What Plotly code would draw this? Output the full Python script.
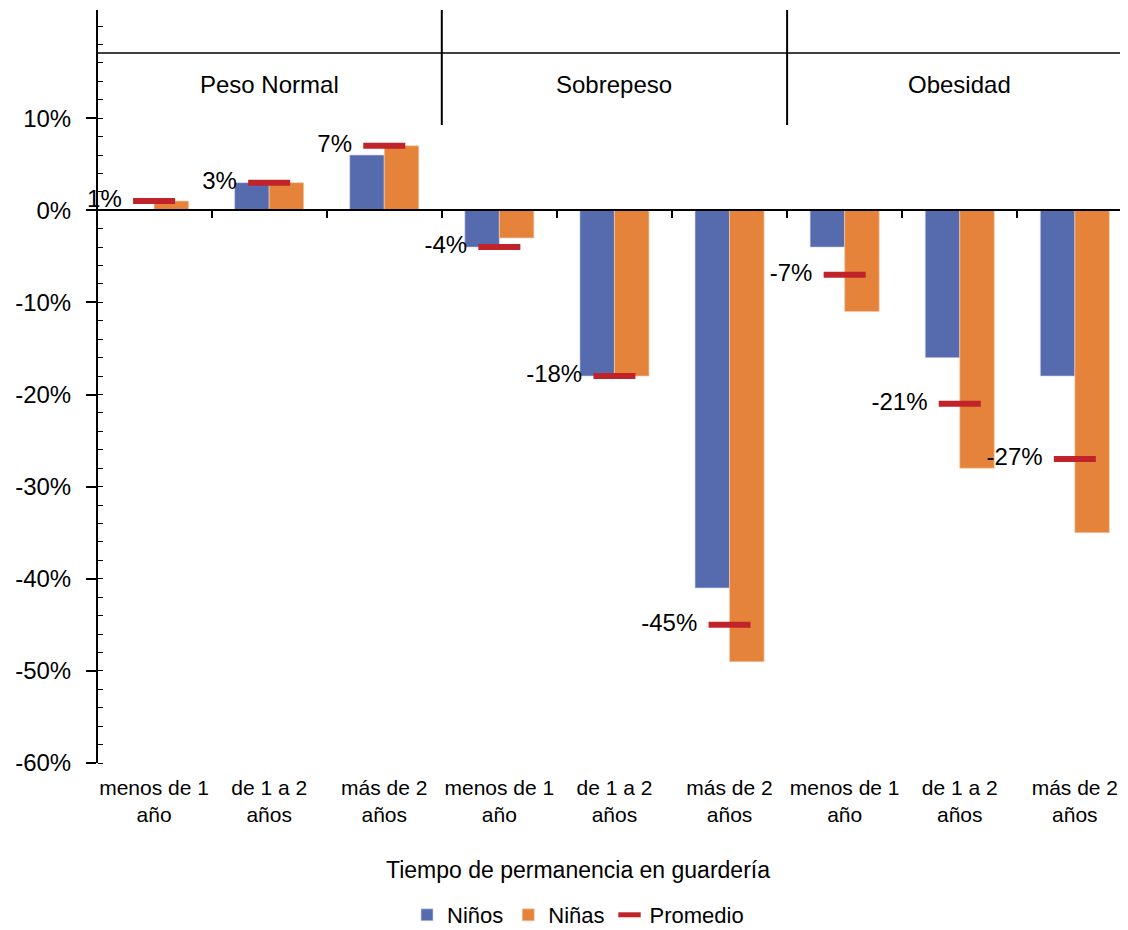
import plotly.graph_objects as go

# ---------------- data ----------------
groups = ["Peso Normal", "Sobrepeso", "Obesidad"]
periods = ["menos de 1<br>año", "de 1 a 2<br>años", "más de 2<br>años"]
categories = periods * 3
ninos = [0, 3, 6, -4, -18, -41, -4, -16, -18]
ninas = [1, 3, 7, -3, -18, -49, -11, -28, -35]
promedio = [1, 3, 7, -4, -18, -45, -7, -21, -27]
y_ticks = [10, 0, -10, -20, -30, -40, -50, -60]

# ---------------- styling ----------------
FONT = "Liberation Sans, Arial, Helvetica, sans-serif"
C_NINOS = "#566AAE"
C_NINAS = "#E5833A"
C_PROM = "#C1232B"

OFF = 8  # default page body margin
W, H = 1128 - OFF, 930 - OFF
ML, MR, MT = 98 - OFF, 0, 10 - OFF
MB = H - (763 - OFF)
plot_h = H - MT - MB
plot_w = W - ML - MR

y_min, y_max = -60, 21.74
x_idx = list(range(len(categories)))
x_min = -0.487
x_max = x_min + plot_w / 115.1

def fy(px):  # page pixel (from top) -> paper fraction
    return (H - MB - (px - OFF)) / plot_h

def fx(px):
    return ((px - OFF) - ML) / plot_w

fig = go.Figure()
fig.add_trace(go.Bar(x=x_idx, y=ninos, name="Niños", marker=dict(color=C_NINOS, line=dict(color="rgba(210,215,235,0.8)", width=0.8)), hoverinfo="y"))
fig.add_trace(go.Bar(x=x_idx, y=ninas, name="Niñas", marker=dict(color=C_NINAS, line=dict(color="rgba(245,205,175,0.8)", width=0.8)), hoverinfo="y"))
fig.add_trace(go.Scatter(x=x_idx, y=promedio, name="Promedio", mode="markers",
                         marker=dict(symbol="line-ew", size=30, color=C_PROM, line=dict(color=C_PROM, width=6))))
# data labels to the left of the average marks
fig.add_trace(go.Scatter(x=x_idx, y=promedio, mode="markers+text", showlegend=False, hoverinfo="skip",
                         text=[f"{v}%" for v in promedio], textposition="middle left",
                         textfont=dict(family=FONT, size=24, color="black"),
                         marker=dict(size=50, opacity=0), cliponaxis=False))
# dummy trace for the zero-line axis with boundary ticks
fig.add_trace(go.Scatter(x=[x_min, x_max], y=[0, 0], xaxis="x2", mode="lines", line=dict(width=0),
                         showlegend=False, hoverinfo="skip"))

zero_frac = (0 - y_min) / (y_max - y_min)
boundaries = [i + 0.5 for i in range(len(categories) - 1)]

fig.update_layout(
    width=W, height=H,
    margin=dict(l=ML, r=MR, t=MT, b=MB, autoexpand=False),
    paper_bgcolor="white", plot_bgcolor="white",
    font=dict(family=FONT, size=21, color="black"),
    barmode="group", bargap=0.4, bargroupgap=0,
    xaxis=dict(range=[x_min, x_max], tickmode="array", tickvals=x_idx, ticktext=categories,
               ticks="", showline=False, showgrid=False, zeroline=False, automargin=False,
               tickfont=dict(size=21), ticklabelstandoff=10),
    xaxis2=dict(range=[x_min, x_max], overlaying="x", anchor="free", position=zero_frac,
                tickmode="array", tickvals=boundaries, ticks="outside", ticklen=7, tickwidth=1.5,
                tickcolor="black", showticklabels=False, showline=True, linecolor="black",
                linewidth=2, showgrid=False, zeroline=False, automargin=False),
    yaxis=dict(range=[y_min, y_max], tickmode="array", tickvals=y_ticks,
               ticktext=[f"{v}%" for v in y_ticks], ticks="outside", ticklen=10, tickwidth=1.5,
               tickcolor="black", showline=True, linecolor="black", linewidth=2, automargin=False,
               showgrid=False, zeroline=False, tickfont=dict(size=24), ticklabelstandoff=10,
               minor=dict(dtick=2, tick0=0, ticks="inside", ticklen=5, tickwidth=1, tickcolor="black")),
    legend=dict(orientation="h", x=fx(578), xanchor="center", y=fy(915), yanchor="middle",
                font=dict(size=22), traceorder="normal", itemwidth=30),
    showlegend=True,
)

# header band: group separators and labels
shapes = [dict(type="line", xref="paper", yref="paper", x0=0, x1=1, y0=fy(53), y1=fy(53),
               line=dict(color="black", width=1.5))]
for b in [2.5, 5.5]:
    shapes.append(dict(type="line", xref="x", yref="paper", x0=b, x1=b, y0=fy(125), y1=1,
                       line=dict(color="black", width=2)))
fig.update_layout(shapes=shapes)

annotations = []
for i, g in enumerate(groups):
    annotations.append(dict(text=g, x=3 * i + 1, xref="x", y=fy(84), yref="paper",
                            showarrow=False, font=dict(size=24), xanchor="center", yanchor="middle"))
annotations.append(dict(text="Tiempo de permanencia en guardería", x=fx(578), xref="paper",
                        y=fy(870), yref="paper", showarrow=False, font=dict(size=23),
                        xanchor="center", yanchor="middle"))
fig.update_layout(annotations=annotations)

fig.write_html("out.html")
